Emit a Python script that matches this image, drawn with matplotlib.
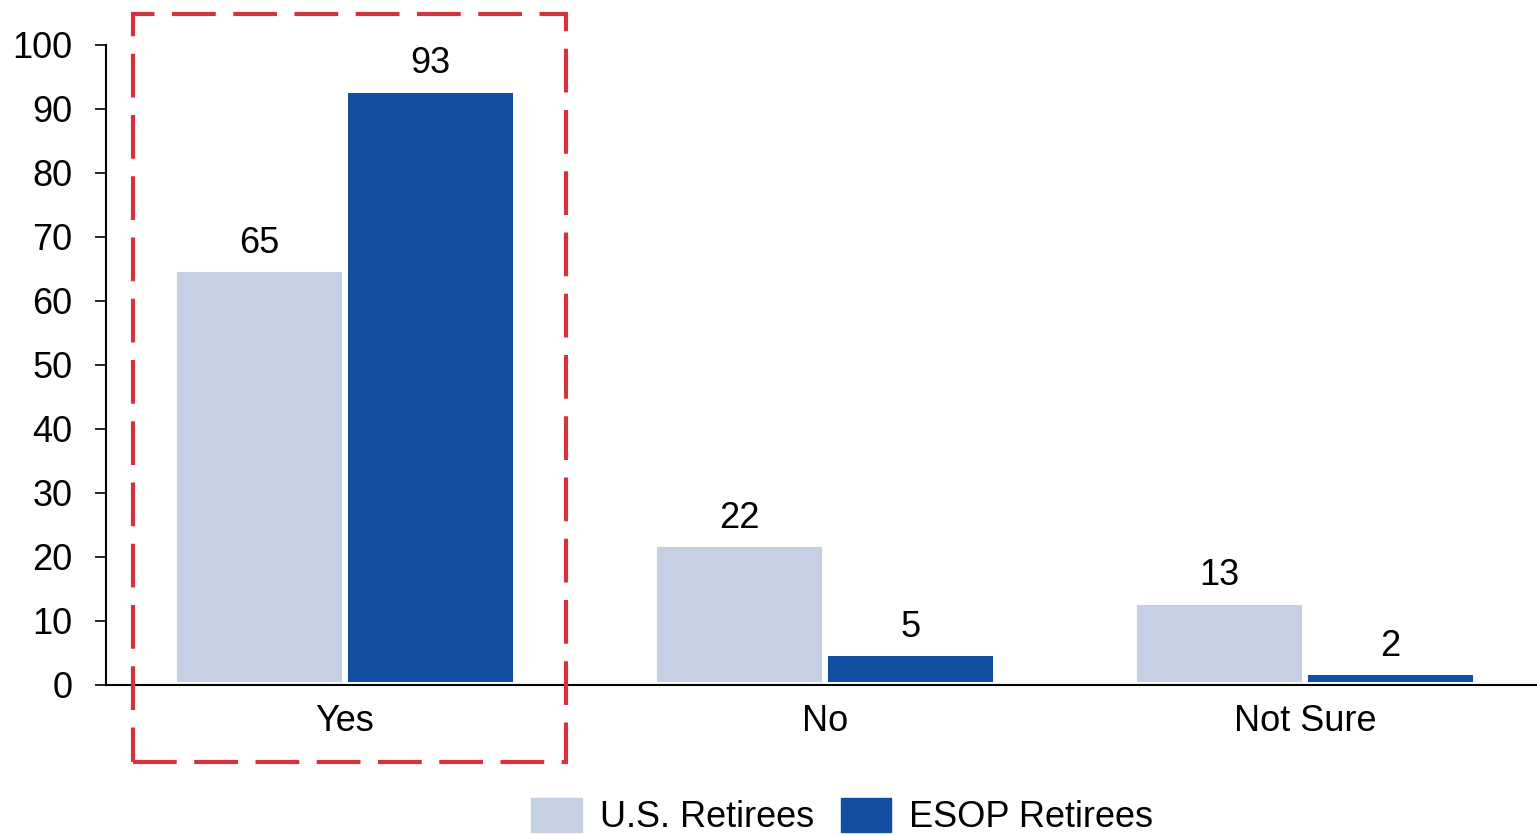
import matplotlib.pyplot as plt
import numpy as np
from matplotlib.patches import Rectangle, Patch

plt.rcParams['font.family'] = ['Liberation Sans', 'DejaVu Sans']

categories = ['Yes', 'No', 'Not Sure']
us_retirees = [65, 22, 13]
esop_retirees = [93, 5, 2]
series_names = ['U.S. Retirees', 'ESOP Retirees']

light = '#C5D0E2'
dark = '#124EA1'
red = '#D4333D'

fig = plt.figure(figsize=(15.37, 8.35), dpi=100)
ax = fig.add_axes([106 / 1537, 1 - 685 / 835, 1 - 106 / 1537, 640 / 835])

x = np.arange(len(categories))
w = 0.356
b1 = ax.bar(x - w / 2, us_retirees, w, color=light, edgecolor='white', linewidth=4.3)
b2 = ax.bar(x + w / 2, esop_retirees, w, color=dark, edgecolor='white', linewidth=4.3)
ax.bar_label(b1, padding=6, fontsize=26)
ax.bar_label(b2, padding=6, fontsize=26)

ax.set_xlim(-0.498, 2.483)
ax.set_ylim(0, 100)
ax.set_yticks(range(0, 101, 10))
ax.set_xticks(x)
ax.set_xticklabels(categories)
ax.tick_params(axis='y', length=8, width=1.2, pad=16, labelsize=26)
ax.tick_params(axis='x', length=0, pad=14, labelsize=26)
for s in ['top', 'right']:
    ax.spines[s].set_visible(False)
ax.spines['left'].set_linewidth(1.5)
ax.spines['bottom'].set_linewidth(1.5)

# red dashed highlight around "Yes"
box = Rectangle((133 / 1537, 1 - 762 / 835), (566 - 133) / 1537, (762 - 14) / 835,
                transform=fig.transFigure, fill=False, edgecolor=red, linewidth=3,
                linestyle=(0, (10.5, 4.2)))
fig.patches.append(box)

handles = [Patch(color=light), Patch(color=dark)]
fig.legend(handles, series_names, loc='upper center', bbox_to_anchor=(0.548, 0.062),
           ncol=2, frameon=False, fontsize=26, handlelength=1.4, handleheight=1.1,
           handletextpad=0.5, columnspacing=0.75, borderaxespad=0)

fig.savefig('out.png', dpi=100)
